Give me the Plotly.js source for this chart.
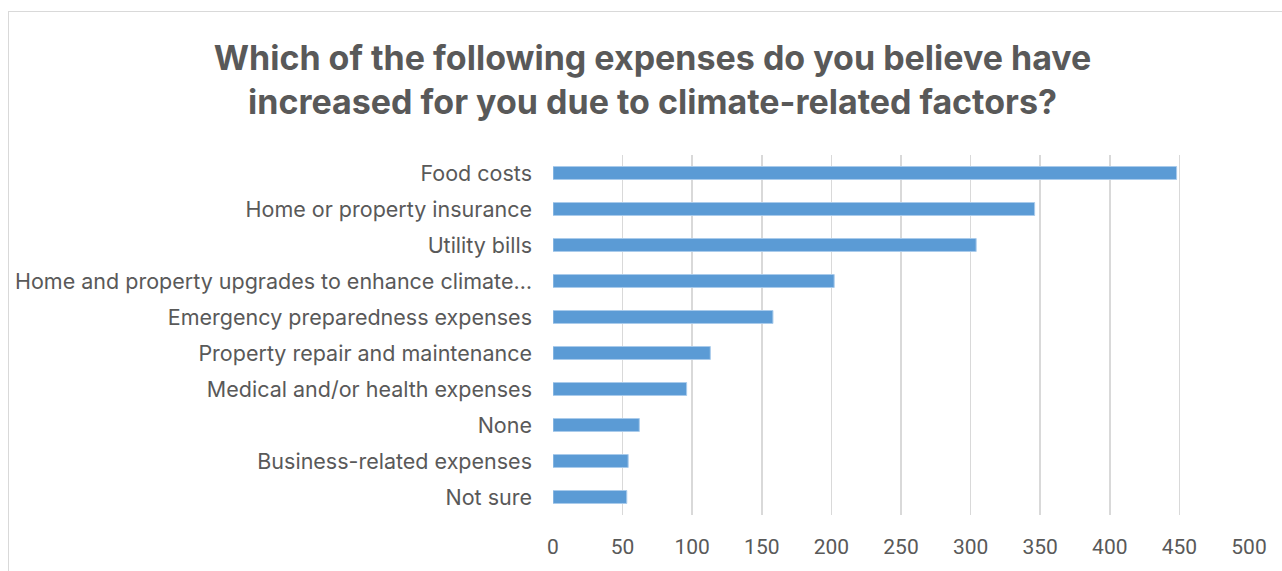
<!DOCTYPE html>
<html>
<head>
<meta charset="utf-8">
<script src="https://cdn.plot.ly/plotly-3.0.1.min.js"></script>
<style>
  html, body { margin: 0; padding: 0; background: #ffffff; }
  #frame { position: absolute; left: 8px; top: 11px; width: 1300px; height: 600px; border: 1.5px solid #d9d9d9; box-sizing: border-box; }
  #chart { position: absolute; left: 0; top: 0; width: 1282px; height: 571px; }
</style>
</head>
<body>
<div id="frame"></div>
<div id="chart"></div>
<script>
const categories = [
  "Food costs",
  "Home or property insurance",
  "Utility bills",
  "Home and property upgrades to enhance climate…",
  "Emergency preparedness expenses",
  "Property repair and maintenance",
  "Medical and/or health expenses",
  "None",
  "Business-related expenses",
  "Not sure"
];
const values = [448, 346, 304, 202, 158, 113, 96, 62, 54, 53];
const xTicks = [0, 50, 100, 150, 200, 250, 300, 350, 400, 450, 500];
const titleText = "Which of the following expenses do you believe have<br>increased for you due to climate-related factors?";

const trace = {
  type: "bar",
  orientation: "h",
  y: categories,
  x: values,
  marker: { color: "#5b9bd5", line: { color: "#a9cbeb", width: 1 } },
  hoverinfo: "x+y"
};

const layout = {
  width: 1282,
  height: 571,
  margin: { l: 553, r: 33, t: 155, b: 56, pad: 0 },
  paper_bgcolor: "rgba(0,0,0,0)",
  plot_bgcolor: "rgba(0,0,0,0)",
  bargap: 0.64,
  showlegend: false,
  title: {
    text: titleText,
    font: { family: "Inter, 'Open Sans', sans-serif", size: 34, color: "#595959", weight: 700 },
    x: 0.509,
    xanchor: "center",
    xref: "container",
    y: 0.878,
    yanchor: "top",
    yref: "container"
  },
  xaxis: {
    range: [0, 500],
    tickvals: xTicks,
    ticktext: xTicks.map(String),
    showgrid: true,
    gridcolor: "#d9d9d9",
    gridwidth: 1.5,
    zeroline: false,
    showline: false,
    ticks: "",
    ticklabelstandoff: 17,
    tickfont: { family: "'Liberation Sans Narrow', 'Arial Narrow', Roboto, sans-serif", size: 21, color: "#595959" },
    fixedrange: true
  },
  yaxis: {
    type: "category",
    autorange: "reversed",
    showgrid: false,
    zeroline: false,
    showline: false,
    ticks: "",
    ticklabelstandoff: 20,
    tickfont: { family: "Inter, 'Open Sans', sans-serif", size: 21.5, color: "#595959" },
    fixedrange: true
  }
};

Plotly.newPlot("chart", [trace], layout, { displayModeBar: false, staticPlot: true });
</script>
</body>
</html>
